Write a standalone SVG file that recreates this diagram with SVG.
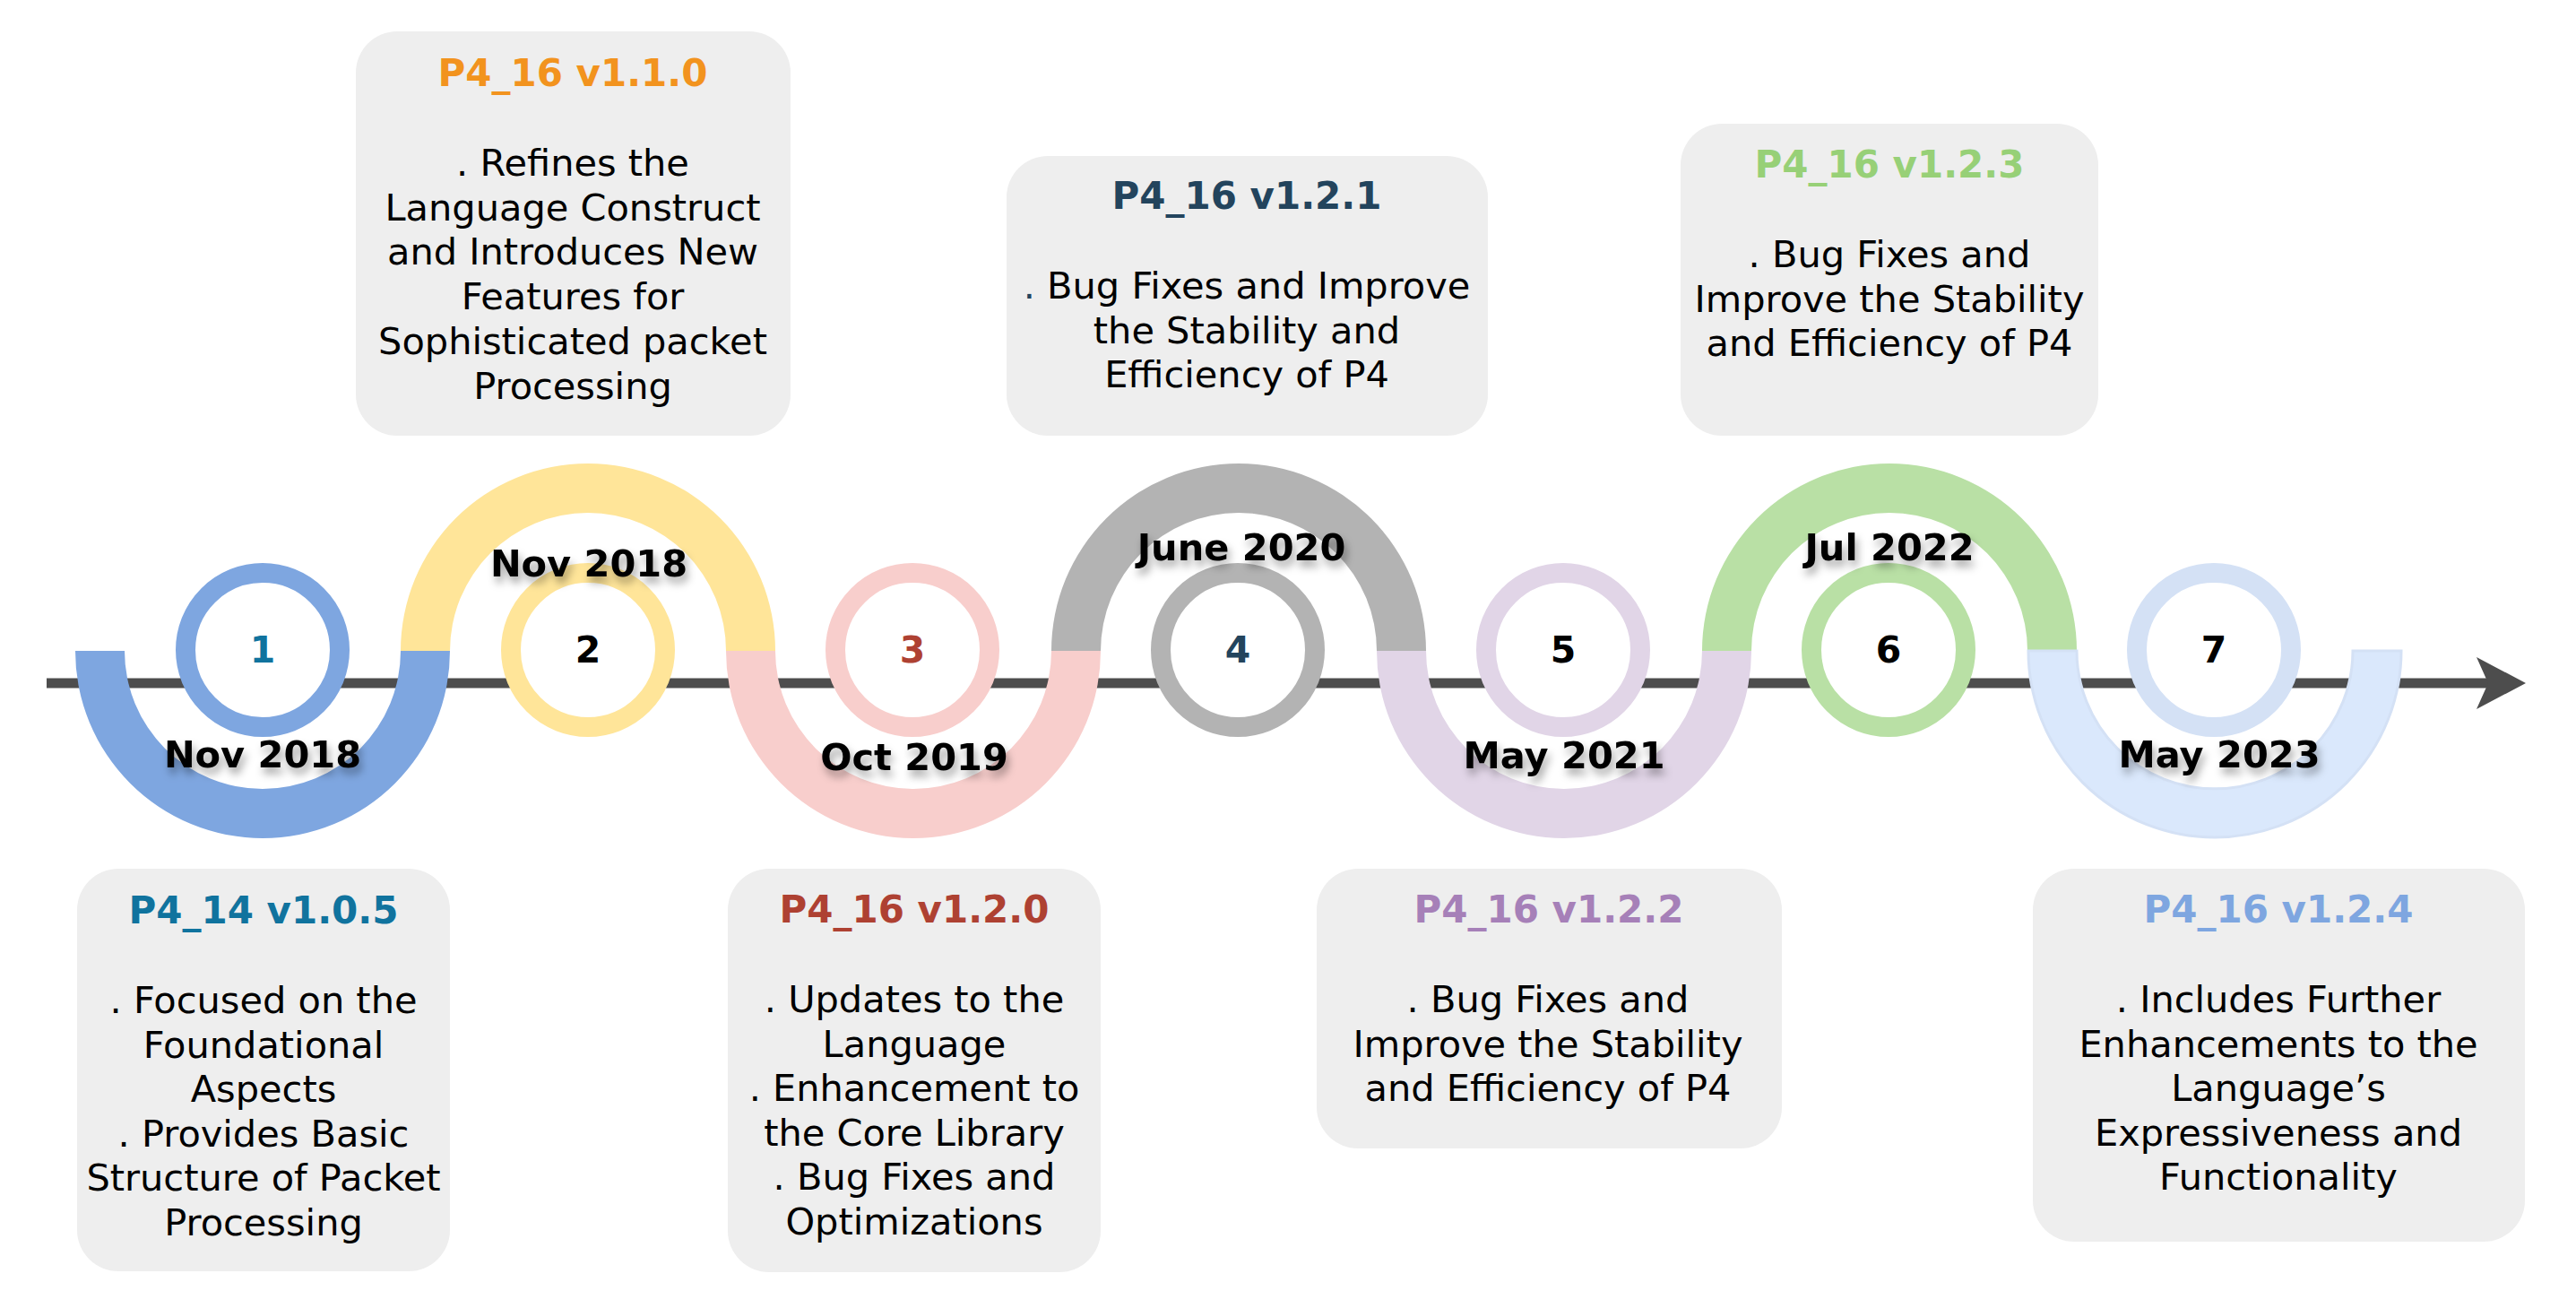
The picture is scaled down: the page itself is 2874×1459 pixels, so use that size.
<svg xmlns="http://www.w3.org/2000/svg" width="2874" height="1459" viewBox="0 0 2874 1459">
<defs>
<style>
.box{fill:#eeeeee;}
.title{font-family:"DejaVu Sans",Verdana,sans-serif;font-weight:bold;font-size:42px;text-anchor:middle;}
.body{font-family:"DejaVu Sans",Verdana,sans-serif;font-size:41.5px;text-anchor:middle;fill:#000;}
.date{font-family:"DejaVu Sans",Verdana,sans-serif;font-weight:bold;font-size:41.5px;text-anchor:middle;fill:#000;filter:url(#sh);}
.num{font-family:"DejaVu Sans",Verdana,sans-serif;font-weight:bold;font-size:41px;text-anchor:middle;}
.ring{fill:#ffffff;stroke-width:22;}
</style>
<filter id="sh" x="-20%" y="-40%" width="140%" height="200%">
<feDropShadow dx="3" dy="7" stdDeviation="5" flood-color="#000" flood-opacity="0.35"/>
</filter>
</defs>
<rect width="2874" height="1459" fill="#ffffff"/>

<g id="connectors">
<line x1="52" y1="762" x2="2778" y2="762" stroke="#4d4d4d" stroke-width="11"/>
<polygon points="2818,762 2763,733 2776,762 2763,791" fill="#4d4d4d"/>
</g>

<g id="arcs">
<path d="M84,726 A209,209 0 0 0 502,726 L447,726 A154,154 0 0 1 139,726 Z" fill="#7ea6e0"/>
<path d="M447,726 A209,209 0 0 1 865,726 L810,726 A154,154 0 0 0 502,726 Z" fill="#ffe599"/>
<path d="M810,726 A209,209 0 0 0 1228,726 L1173,726 A154,154 0 0 1 865,726 Z" fill="#f8cecc"/>
<path d="M1173,726 A209,209 0 0 1 1591,726 L1536,726 A154,154 0 0 0 1228,726 Z" fill="#b3b3b3"/>
<path d="M1536,726 A209,209 0 0 0 1954,726 L1899,726 A154,154 0 0 1 1591,726 Z" fill="#e1d5e7"/>
<path d="M1899,726 A209,209 0 0 1 2317,726 L2262,726 A154,154 0 0 0 1954,726 Z" fill="#b9e0a5"/>
<path d="M2263,726 A208,208 0 0 0 2679,726 L2625,726 A154,154 0 0 1 2317,726 Z" fill="#dae8fc" stroke="#d4e1f5" stroke-width="3"/>
</g>

<g id="node1">
<circle class="ring" cx="293" cy="725" r="86" stroke="#7ea6e0"/>
<text class="num" x="293" y="739" fill="#10739e">1</text>
<text class="date" x="293" y="856">Nov 2018</text>
<rect class="box" x="86" y="969" width="416" height="449" rx="46" ry="46"/>
<text class="title" x="294" y="1030" fill="#10739e">P4_14 v1.0.5</text>
<text class="body"><tspan x="294" y="1130">. Focused on the</tspan><tspan x="294" y="1179.6">Foundational</tspan><tspan x="294" y="1229.2">Aspects</tspan><tspan x="294" y="1278.8">. Provides Basic</tspan><tspan x="294" y="1328.4">Structure of Packet</tspan><tspan x="294" y="1378">Processing</tspan></text>
</g>

<g id="node2">
<circle class="ring" cx="656" cy="725" r="86" stroke="#ffe599"/>
<text class="num" x="656" y="739" fill="#000">2</text>
<text class="date" x="657" y="643">Nov 2018</text>
<rect class="box" x="397" y="35" width="485" height="451" rx="46" ry="46"/>
<text class="title" x="639" y="96" fill="#f2931e">P4_16 v1.1.0</text>
<text class="body"><tspan x="639" y="196">. Refines the</tspan><tspan x="639" y="245.7">Language Construct</tspan><tspan x="639" y="295.4">and Introduces New</tspan><tspan x="639" y="345.1">Features for</tspan><tspan x="639" y="394.8">Sophisticated packet</tspan><tspan x="639" y="444.5">Processing</tspan></text>
</g>

<g id="node3">
<circle class="ring" cx="1018" cy="725" r="86" stroke="#f8cecc"/>
<text class="num" x="1018" y="739" fill="#ae4132">3</text>
<text class="date" x="1020" y="859">Oct 2019</text>
<rect class="box" x="812" y="969" width="416" height="450" rx="46" ry="46"/>
<text class="title" x="1020" y="1029" fill="#ae4132">P4_16 v1.2.0</text>
<text class="body"><tspan x="1020" y="1129">. Updates to the</tspan><tspan x="1020" y="1178.6">Language</tspan><tspan x="1020" y="1228.2">. Enhancement to</tspan><tspan x="1020" y="1277.8">the Core Library</tspan><tspan x="1020" y="1327.4">. Bug Fixes and</tspan><tspan x="1020" y="1377">Optimizations</tspan></text>
</g>

<g id="node4">
<circle class="ring" cx="1381" cy="725" r="86" stroke="#b3b3b3"/>
<text class="num" x="1381" y="739" fill="#23445d">4</text>
<text class="date" x="1385" y="625">June 2020</text>
<rect class="box" x="1123" y="174" width="537" height="312" rx="46" ry="46"/>
<text class="title" x="1391" y="233" fill="#23445d">P4_16 v1.2.1</text>
<text class="body"><tspan x="1391" y="333"><tspan fill="#23445d">.</tspan> Bug Fixes and Improve</tspan><tspan x="1391" y="382.7">the Stability and</tspan><tspan x="1391" y="432.4">Efficiency of P4</tspan></text>
</g>

<g id="node5">
<circle class="ring" cx="1744" cy="725" r="86" stroke="#e1d5e7"/>
<text class="num" x="1744" y="739" fill="#000">5</text>
<text class="date" x="1745" y="857">May 2021</text>
<rect class="box" x="1469" y="969" width="519" height="312" rx="46" ry="46"/>
<text class="title" x="1728" y="1029" fill="#a680b8">P4_16 v1.2.2</text>
<text class="body"><tspan x="1727" y="1129">. Bug Fixes and</tspan><tspan x="1727" y="1178.7">Improve the Stability</tspan><tspan x="1727" y="1228.4">and Efficiency of P4</tspan></text>
</g>

<g id="node6">
<circle class="ring" cx="2107" cy="725" r="86" stroke="#b9e0a5"/>
<text class="num" x="2107" y="739" fill="#000">6</text>
<text class="date" x="2108" y="625">Jul 2022</text>
<rect class="box" x="1875" y="138" width="466" height="348" rx="46" ry="46"/>
<text class="title" x="2108" y="198" fill="#97d077">P4_16 v1.2.3</text>
<text class="body"><tspan x="2108" y="298">. Bug Fixes and</tspan><tspan x="2108" y="347.7">Improve the Stability</tspan><tspan x="2108" y="397.4">and Efficiency of P4</tspan></text>
</g>

<g id="node7">
<circle class="ring" cx="2470" cy="725" r="86" stroke="#d4e1f5"/>
<text class="num" x="2470" y="739" fill="#000">7</text>
<text class="date" x="2476" y="856">May 2023</text>
<rect class="box" x="2268" y="969" width="549" height="416" rx="46" ry="46"/>
<text class="title" x="2542" y="1029" fill="#7ea6e0">P4_16 v1.2.4</text>
<text class="body"><tspan x="2542" y="1129">. Includes Further</tspan><tspan x="2542" y="1178.6">Enhancements to the</tspan><tspan x="2542" y="1228.2">Language’s</tspan><tspan x="2542" y="1277.8">Expressiveness and</tspan><tspan x="2542" y="1327.4">Functionality</tspan></text>
</g>
</svg>
